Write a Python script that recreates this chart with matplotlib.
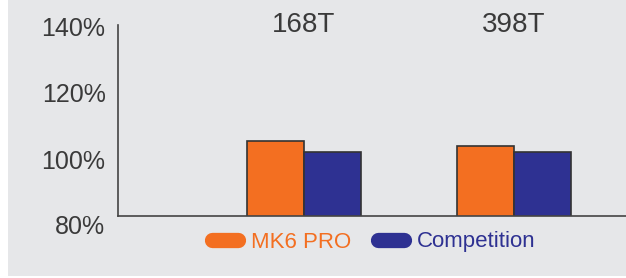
import numpy as np
import matplotlib
matplotlib.use("Agg")
import matplotlib.pyplot as plt
import matplotlib.transforms as mtransforms
from matplotlib.lines import Line2D
from matplotlib.patches import Rectangle

# -------- DATA --------
categories = ["168T", "398T"]
mk6_pro = [103.5, 102.0]
competition = [100.0, 100.0]
y_ticks = [80, 100, 120, 140]
# ----------------------

ORANGE = "#F36F21"
BLUE = "#2E3192"
BG = "#E6E7E9"
TEXT = "#3A3A3A"

plt.rcParams["font.family"] = ["Liberation Sans", "DejaVu Sans"]

fig = plt.figure(figsize=(6.26, 2.78), dpi=100, facecolor="white")
fig.patches.append(Rectangle((8 / 626, 2 / 278), 1, 1, transform=fig.transFigure,
                             facecolor=BG, edgecolor="none", zorder=-10))
ax = fig.add_axes([118 / 626, 1 - 216 / 278, 1 - 118 / 626, (216 - 25) / 278])
ax.set_facecolor("none")

x = np.arange(1, len(categories) + 1)
w = 0.27
ax.bar(x - w / 2, mk6_pro, w, bottom=0, color=ORANGE, edgecolor="#333333", linewidth=1.2)
ax.bar(x + w / 2, competition, w, bottom=0, color=BLUE, edgecolor="#333333", linewidth=1.2)

ax.set_ylim(80, 140)
ax.set_xlim(1 - 186 / 210, 2 + 112 / 210)
ax.set_yticks(y_ticks)
ax.set_yticklabels([f"{v}%" for v in y_ticks], fontsize=18, color=TEXT)
ax.tick_params(axis="y", length=0, pad=9)
ax.set_xticks([])

# labels in the original sit a little lower than the gridline values
shifts = {80: -8, 100: -7, 120: -4, 140: -1}
for v, lab in zip(y_ticks, ax.get_yticklabels()):
    lab.set_transform(lab.get_transform() +
                      mtransforms.ScaledTranslation(0, shifts[v] / 100, fig.dpi_scale_trans))

for side in ["top", "right"]:
    ax.spines[side].set_visible(False)
for side in ["left", "bottom"]:
    ax.spines[side].set_color("#444444")
    ax.spines[side].set_linewidth(1.2)

for xi, lab in zip(x, categories):
    ax.text(xi, 140, lab, ha="center", va="center", fontsize=20, color=TEXT)

handles = [
    Line2D([], [], color=ORANGE, lw=11, solid_capstyle="round"),
    Line2D([], [], color=BLUE, lw=11, solid_capstyle="round"),
]
leg = fig.legend(handles, ["MK6 PRO", "Competition"], loc="center",
                 bbox_to_anchor=(374 / 626, 1 - 242 / 278), ncol=2, frameon=False,
                 fontsize=16, handlelength=1.15, handletextpad=0.6, columnspacing=1.2)
leg.get_texts()[0].set_color(ORANGE)
leg.get_texts()[1].set_color(BLUE)

fig.savefig("out.png", dpi=100, facecolor=fig.get_facecolor())
